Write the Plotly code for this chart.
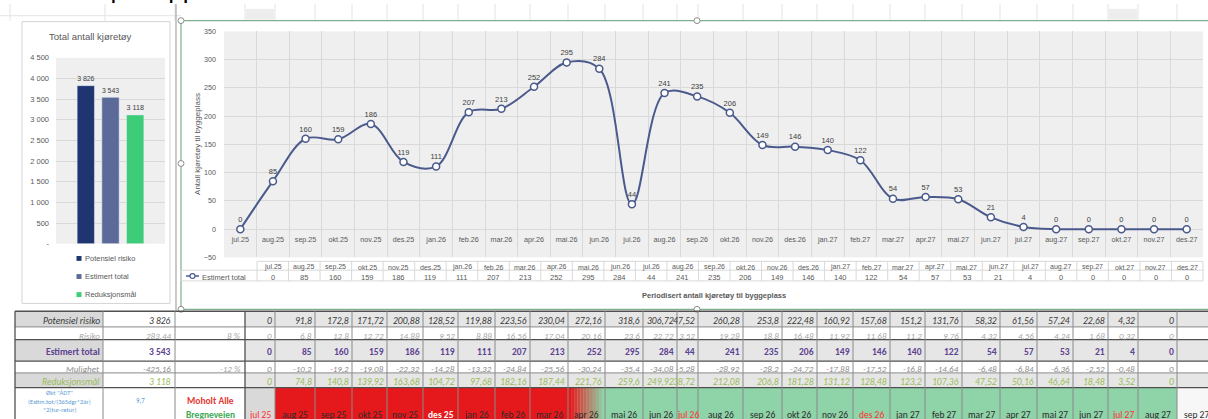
import plotly.graph_objects as go

W, H = 1208, 419
def X(p): return p / W
def Y(p): return 1 - p / H

# ---------------- data ----------------
months = ["jul.25","aug.25","sep.25","okt.25","nov.25","des.25","jan.26","feb.26","mar.26","apr.26",
          "mai.26","jun.26","jul.26","aug.26","sep.26","okt.26","nov.26","des.26","jan.27","feb.27",
          "mar.27","apr.27","mai.27","jun.27","jul.27","aug.27","sep.27","okt.27","nov.27","des.27"]
estimert_total = [0,85,160,159,186,119,111,207,213,252,295,284,44,241,235,206,149,146,140,122,
                  54,57,53,21,4,0,0,0,0,0]

bar_names = ["Potensiel risiko","Estimert total","Reduksjonsmål"]
bar_values = [3826, 3543, 3118]
bar_yticks = [0,500,1000,1500,2000,2500,3000,3500,4000,4500]
bar_yticktext = ["-","500","1 000","1 500","2 000","2 500","3 000","3 500","4 000","4 500"]

line_yticks = [-50,0,50,100,150,200,250,300,350]

table_months = ["jul 25","aug 25","sep 25","okt 25","nov 25","des 25","jan 26","feb 26","mar 26","apr 26",
                "mai 26","jun 26","jul 26","aug 26","sep 26","okt 26","nov 26","des 26","jan 27","feb 27",
                "mar 27","apr 27","mai 27","jun 27","jul 27","aug 27","sep 27"]
potensiel_risiko = [0,91.8,172.8,171.72,200.88,128.52,119.88,223.56,230.04,272.16,318.6,306.72,47.52,260.28,
                    253.8,222.48,160.92,157.68,151.2,131.76,58.32,61.56,57.24,22.68,4.32,0,0]
risiko = [0,6.8,12.8,12.72,14.88,9.52,8.88,16.56,17.04,20.16,23.6,22.72,3.52,19.28,18.8,16.48,11.92,
          11.68,11.2,9.76,4.32,4.56,4.24,1.68,0.32,0,0]
estimert_rad = [0,85,160,159,186,119,111,207,213,252,295,284,44,241,235,206,149,146,140,122,54,57,53,21,4,0,0]
mulighet = [0,-10.2,-19.2,-19.08,-22.32,-14.28,-13.32,-24.84,-25.56,-30.24,-35.4,-34.08,-5.28,-28.92,-28.2,
            -24.72,-17.88,-17.52,-16.8,-14.64,-6.48,-6.84,-6.36,-2.52,-0.48,0,0]
reduksjonsmaal = [0,74.8,140.8,139.92,163.68,104.72,97.68,182.16,187.44,221.76,259.6,249.92,38.72,212.08,
                  206.8,181.28,131.12,128.48,123.2,107.36,47.52,50.16,46.64,18.48,3.52,0,0]
row_labels = ["Potensiel risiko","Risiko","Estimert total","Mulighet","Reduksjonsmål"]
row_totals = ["3 826","283,44","3 543","-425,16","3 118"]
row_pct = ["","8 %","","-12 %",""]
month_status = ["grey"] + ["red"]*8 + ["mix"] + ["green"]*16 + ["blank"]
month_textcol = ["redtxt","dark","dark","dark","dark","white","dark","dark","dark","dark",
                 "dark","dark","redtxt","dark","dark","dark","dark","redtxt","dark","dark",
                 "dark","dark","dark","dark","redtxt","dark","dark"]

# ---------------- styles ----------------
CF = "Liberation Sans, Arial, sans-serif"
TF = "Carlito, 'Liberation Sans Narrow', 'Arial Narrow', 'Liberation Sans', sans-serif"
GRAY = "#595959"
GRID = "#D9D9D9"
LINE = "#4A5A8C"
bar_colors = ["#1F3572", "#5B6A98", "#3DCC78"]

fig = go.Figure()

# bar chart
for n, v, c in zip(bar_names, bar_values, bar_colors):
    fig.add_trace(go.Bar(x=["Total"], y=[v], name=n, marker_color=c, xaxis="x", yaxis="y",
                         texttemplate="%{y:,}", textposition="outside", cliponaxis=False,
                         textfont=dict(size=7.5, color="#404040", family=CF), showlegend=False))

# line chart
fig.add_trace(go.Scatter(x=months, y=estimert_total, xaxis="x2", yaxis="y2", mode="lines+markers+text",
                         text=[str(v) for v in estimert_total], textposition="top center",
                         textfont=dict(size=7.5, color="#404040", family=CF),
                         line=dict(color=LINE, width=2, shape="spline", smoothing=1.0),
                         marker=dict(size=7, color="white", line=dict(color=LINE, width=1.5)),
                         cliponaxis=False, showlegend=False))

shapes, ann = [], []

def line(x0, y0, x1, y1, color, w=1, layer="above"):
    shapes.append(dict(type="line", xref="paper", yref="paper", x0=X(x0), y0=Y(y0), x1=X(x1), y1=Y(y1),
                       line=dict(color=color, width=w), layer=layer))

def rect(x0, y0, x1, y1, fill, lc=None, lw=0, layer="below"):
    shapes.append(dict(type="rect", xref="paper", yref="paper", x0=X(x0), y0=Y(y0), x1=X(x1), y1=Y(y1),
                       fillcolor=fill, line=dict(color=lc or fill, width=lw), layer=layer))

def text(x, y, s, size=8, color=GRAY, xa="center", ya="middle", family=CF, angle=0):
    ann.append(dict(xref="paper", yref="paper", x=X(x), y=Y(y), text=s, showarrow=False, xanchor=xa,
                    yanchor=ya, textangle=angle, font=dict(size=size, color=color, family=family),
                    borderpad=0))

# ---- spreadsheet background bits ----
sheet_cols = [10, 105, 175, 245, 275, 315, 352, 387, 423, 458, 495, 530, 568, 605, 643, 677, 698, 743,
              782, 817, 853, 890, 925, 962, 1000, 1037, 1073, 1108, 1138, 1177]
for cx in sheet_cols:
    line(cx, 0, cx, 17, "#E3E3E3", 1, "below")
line(0, 12, 181, 12, "#E3E3E3", 1, "below")
rect(246, 5, 274, 16, "#EDEDED")
rect(1109, 5, 1137, 16, "#EDEDED")
line(176, 0, 176, 313, "#A6A6A6", 1.2)
text(14, 1, "Kontroll på topp", size=26, color="#000000", xa="left", ya="bottom", family=CF)

# ---- bar chart frame ----
rect(22, 18, 170, 306, "rgba(0,0,0,0)", "#D4D4D4", 1)
text(90, 33, "Total antall kjøretøy", size=9.5, color=GRAY)
for i, (n, c) in enumerate(zip(bar_names, bar_colors)):
    yy = 260 + i * 18.5
    rect(76.5, yy - 2.5, 81.5, yy + 2.5, c, layer="above")
    text(84, yy, n, size=7.5, color=GRAY, xa="left")

# ---- line chart frame ----
rect(181, 17, 1215, 312, "rgba(0,0,0,0)", "#7FAF8E", 1.2, layer="above")
for hx, hy in [(181, 17), (697, 17), (181, 163), (181, 312), (697, 312)]:
    shapes.append(dict(type="circle", xref="paper", yref="paper", x0=X(hx - 3), x1=X(hx + 3),
                       y0=Y(hy + 3), y1=Y(hy - 3), fillcolor="white", line=dict(color="#8C8C8C", width=1),
                       layer="above"))
text(198, 143, "Antall kjøretøy til byggeplass", size=8, color=GRAY, angle=-90)
text(714, 298, "<b>Periodisert antall kjøretøy til byggeplass</b>", size=7.5, color=GRAY)

# data table under line chart
t_left, t_right = 257, 1203
n_c = len(months)
cw = (t_right - t_left) / n_c
TL = "#D9D9D9"
line(t_left, 263, t_right, 263, TL)
line(181, 272, t_right, 272, TL)
line(181, 283, t_right, 283, TL)
line(181, 272, 181, 283, TL)
for i in range(n_c + 1):
    xx = t_left + i * cw
    line(xx, 263, xx, 283, TL)
for i, (m, v) in enumerate(zip(months, estimert_total)):
    cx = t_left + (i + 0.5) * cw
    text(cx, 269, m, size=7, color=GRAY)
    text(cx, 279, str(v), size=7.5, color=GRAY)
line(186, 278, 199, 278, LINE, 1.5)
shapes.append(dict(type="circle", xref="paper", yref="paper", x0=X(190), x1=X(195), y0=Y(280.5), y1=Y(275.5),
                   fillcolor="white", line=dict(color=LINE, width=1.2), layer="above"))
text(201, 279, "Estimert total", size=7.5, color=GRAY, xa="left")

# ---- bottom spreadsheet table ----
col_edges = [245, 275, 315, 352, 387, 423, 458, 495, 530, 568, 605, 643, 677, 698, 743, 782, 817, 853,
             890, 925, 962, 1000, 1037, 1073, 1108, 1138, 1177, 1216]
row_edges = [314, 330, 343, 365, 377, 392, 440]
left_edges = [15, 103, 175, 245]
row_data = [potensiel_risiko, risiko, estimert_rad, mulighet, reduksjonsmaal]
row_style = [
    dict(color="#3A3A3A", pre="<i>", post="</i>", size=9.5),
    dict(color="#A6A6A6", pre="<i>", post="</i>", size=9),
    dict(color="#5E4391", pre="<b>", post="</b>", size=9.5),
    dict(color="#8C8C8C", pre="<i>", post="</i>", size=9),
    dict(color="#9BBB59", pre="<i>", post="</i>", size=9.5),
]
shaded = [True, False, True, False, True]

def fmt(v):
    return f"{v:g}".replace(".", ",")

for r in range(5):
    y0, y1 = row_edges[r], row_edges[r + 1]
    yc = (y0 + y1) / 2 + 1.8
    st = row_style[r]
    if shaded[r]:
        rect(left_edges[0], y0, left_edges[1], y1, "#D9D9D9")
        rect(col_edges[0], y0, col_edges[-1], y1, "#E6E6E6")
    text(left_edges[1] - 2, yc, st["pre"] + row_labels[r] + st["post"], size=st["size"], color=st["color"],
         xa="right", family=TF)
    text(left_edges[2] - 3, yc, st["pre"] + row_totals[r] + st["post"], size=st["size"], color=st["color"],
         xa="right", family=TF)
    if row_pct[r]:
        text(left_edges[3] - 3, yc, st["pre"] + row_pct[r] + st["post"], size=st["size"], color="#A6A6A6",
             xa="right", family=TF)
    for c, v in enumerate(row_data[r]):
        text(col_edges[c + 1] - 2, yc, st["pre"] + fmt(v) + st["post"], size=st["size"], color=st["color"],
             xa="right", family=TF)

# month row
y0, y1 = row_edges[5], row_edges[6]
fills = {"grey": "#D9D9D9", "red": "#E5191B", "green": "#8FD3A8", "blank": "#F7F7F7"}
tcols = {"redtxt": "#FF3030", "dark": "#2B2B2B", "white": "#FFFFFF"}
for c, (m, s, tc) in enumerate(zip(table_months, month_status, month_textcol)):
    xa_, xb_ = col_edges[c], col_edges[c + 1]
    if s == "mix":
        nstrip = 12
        for k in range(nstrip):
            f = k / (nstrip - 1)
            r_ = int(0xE5 + (0x8F - 0xE5) * f); g_ = int(0x19 + (0xD3 - 0x19) * f); b_ = int(0x1B + (0xA8 - 0x1B) * f)
            rect(xa_ + (xb_ - xa_) * k / nstrip, y0, xa_ + (xb_ - xa_) * (k + 1) / nstrip + 0.3, y1,
                 f"rgb({r_},{g_},{b_})")
    else:
        rect(xa_, y0, xb_, y1, fills[s])
    lab = f"<b>{m}</b>" if tc == "white" else m
    text((xa_ + xb_) / 2, 420, lab, size=9.5, color=tcols[tc], family=TF)

text(59, 398, 'Økt "ÅDT"', size=6.5, color="#5B9BD5", family=TF)
text(59, 406.5, "(Estim.tot/(365dgr*2år)", size=6.5, color="#5B9BD5", family=TF)
text(59, 415, "*2(tur-retur)", size=6.5, color="#5B9BD5", family=TF)
text(140, 405, "9,7", size=7, color="#5B9BD5", family=TF)
text(210, 406, "<b>Moholt Alle</b>", size=9.5, color="#E53935", family=TF)
text(210, 420, "<b>Bregneveien</b>", size=9.5, color="#3BAA55", family=TF)

# borders
BD = "#8A8A8A"
DK = "#505050"
for yy in row_edges[:-1]:
    line(left_edges[0], yy, 1216, yy, DK if yy in (314, 343, 365, 392) else BD, 1.3 if yy in (314, 343, 365, 392) else 1)
for xx in left_edges:
    line(xx, 314, xx, 440, DK if xx in (15, 245) else BD, 1.3 if xx in (15, 245) else 1)
for xx in col_edges[1:]:
    line(xx, 314, xx, 440, BD, 1)

fig.update_layout(
    width=W, height=H, margin=dict(l=0, r=0, t=0, b=0),
    paper_bgcolor="white", plot_bgcolor="#EFEFEF",
    separators=", ",
    barmode="group", bargap=0.32, bargroupgap=0.3,
    showlegend=False,
    font=dict(family=CF, size=8, color=GRAY),
    xaxis=dict(domain=[X(56), X(165)], anchor="y", showticklabels=False, showgrid=False, zeroline=False,
               fixedrange=True),
    yaxis=dict(domain=[Y(245), Y(55)], anchor="x", range=[0, 4500], tickvals=bar_yticks, ticktext=bar_yticktext,
               gridcolor=GRID, zeroline=False, tickfont=dict(size=7.5, color=GRAY), ticks="",
               ticklabelstandoff=6, fixedrange=True),
    xaxis2=dict(domain=[X(224), X(1203)], anchor="free", position=Y(235), type="category",
                tickson="boundaries", showgrid=True, gridcolor=GRID, ticks="", showline=False,
                tickfont=dict(size=7.2, color=GRAY), tickangle=0, range=[-0.5, len(months) - 0.5],
                fixedrange=True),
    yaxis2=dict(domain=[Y(259), Y(28)], anchor="x2", range=[-50, 350], tickvals=line_yticks, gridcolor=GRID,
                zeroline=False, tickfont=dict(size=7.2, color=GRAY), ticks="", ticklabelstandoff=7,
                fixedrange=True),
    shapes=shapes, annotations=ann,
)

fig.write_html("out.html", config={"displayModeBar": False},
               post_script="document.body.style.margin='0px';")
